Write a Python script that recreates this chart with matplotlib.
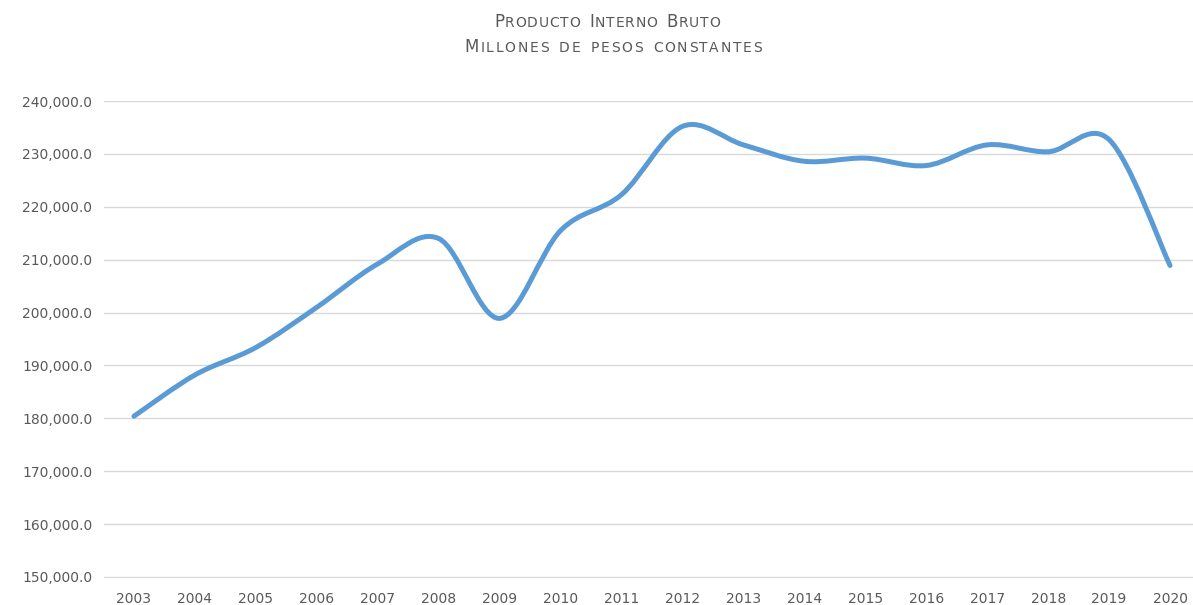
import numpy as np
import matplotlib
matplotlib.use('Agg')
import matplotlib.pyplot as plt
from matplotlib.path import Path
from matplotlib.patches import PathPatch
from matplotlib.offsetbox import TextArea, HPacker, AnchoredOffsetbox
from matplotlib.ticker import FuncFormatter

# PIB en millones de pesos constantes
years = ['2003', '2004', '2005', '2006', '2007', '2008', '2009', '2010', '2011',
         '2012', '2013', '2014', '2015', '2016', '2017', '2018', '2019', '2020']
pib = [180400, 188200, 193400, 201000, 209200, 214000, 198900, 215500, 222300,
       235200, 231700, 228600, 229200, 227800, 231700, 230400, 232700, 208900]

y_ticks = [150000, 160000, 170000, 180000, 190000, 200000, 210000, 220000, 230000, 240000]

LINE_COLOR = '#5B9BD5'
TEXT_COLOR = '#595959'
GRID_COLOR = '#D9D9D9'


def smooth_path(xs, ys):
    """Curva suavizada tipo Excel (Bezier a partir de los puntos vecinos)."""
    pts = np.column_stack([xs, ys]).astype(float)
    n = len(pts)
    verts = [pts[0]]
    codes = [Path.MOVETO]
    for i in range(n - 1):
        p0 = pts[max(i - 1, 0)]
        p1 = pts[i]
        p2 = pts[i + 1]
        p3 = pts[min(i + 2, n - 1)]
        c1 = p1 + (p2 - p0) / 6.0
        c2 = p2 - (p3 - p1) / 6.0
        verts += [c1, c2, p2]
        codes += [Path.CURVE4] * 3
    return Path(verts, codes)


def small_caps(fig, s, x, y, big=12, small=10, spacing=1.2, color=TEXT_COLOR):
    """Texto en versalitas: una caja por letra, con algo de espaciado."""
    boxes = []
    for ch in s:
        size = big if ch.isupper() else small
        boxes.append(TextArea(ch.upper() if ch != ' ' else '\u2002',
                              textprops=dict(fontsize=size, color=color)))
    pack = HPacker(children=boxes, align='baseline', pad=0, sep=spacing)
    box = AnchoredOffsetbox(loc='center', child=pack, bbox_to_anchor=(x, y),
                            bbox_transform=fig.transFigure, frameon=False,
                            pad=0, borderpad=0)
    fig.add_artist(box)


fig = plt.figure(figsize=(11.93, 6.05), dpi=100)
ax = fig.add_axes([103.5 / 1193, 28 / 605, 1097 / 1193, 476 / 605])

xs = np.arange(len(years))
patch = PathPatch(smooth_path(xs, pib), facecolor='none', edgecolor=LINE_COLOR,
                  lw=3.6, capstyle='round', joinstyle='round', zorder=3)
ax.add_patch(patch)

ax.set_xlim(-0.5, len(years) - 0.5)
ax.set_ylim(150000, 240000)
ax.set_xticks(xs)
ax.set_xticklabels(years)
ax.set_yticks(y_ticks)
ax.yaxis.set_major_formatter(FuncFormatter(lambda v, p: f'{v:,.1f}'))

ax.grid(axis='y', color=GRID_COLOR, lw=1)
ax.set_axisbelow(True)
for side in ['top', 'right', 'left']:
    ax.spines[side].set_visible(False)
ax.spines['bottom'].set_color(GRID_COLOR)
ax.tick_params(axis='both', length=0, labelsize=10, labelcolor=TEXT_COLOR)
ax.tick_params(axis='x', pad=11)
ax.tick_params(axis='y', pad=8)

small_caps(fig, 'Producto Interno Bruto', 607 / 1193, 1 - 22 / 605, spacing=0.6)
small_caps(fig, 'Millones de pesos constantes', 613 / 1193, 1 - 47 / 605)

fig.savefig('out.png', dpi=100)
